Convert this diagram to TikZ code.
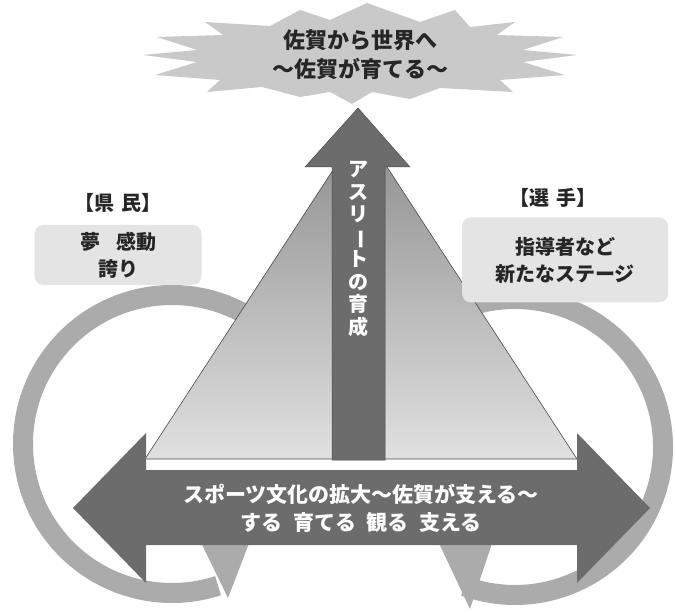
\documentclass[tikz,border=0pt]{standalone}
\usepackage{fontspec}
\usepackage{graphicx}
\newfontfamily\jp{Noto Sans CJK JP}
\usetikzlibrary{positioning,calc}

\definecolor{burstgray}{HTML}{C9C9C9}
\definecolor{ringgray}{HTML}{ABABAB}
\definecolor{arrowgray}{HTML}{6C6C6C}
\definecolor{edgegray}{HTML}{4A4A4A}
\definecolor{boxgray}{HTML}{E4E4E4}
\definecolor{textgray}{HTML}{262626}

\begin{document}
\begin{tikzpicture}[
    x=1pt, y=-1pt,
    burst/.style={fill=burstgray},
    ring/.style={draw=ringgray, line width=20pt},
    ringhead/.style={fill=ringgray},
    bigarrow/.style={fill=arrowgray, draw=edgegray, line width=0.5pt},
    labelbox/.style={fill=boxgray, rounded corners=9pt, inner sep=0pt, align=center, text=textgray, font=\jp\bfseries\fontsize{20}{27}\selectfont},
    heading/.style={text=textgray, font=\jp\bfseries\fontsize{20}{24}\selectfont},
    whitetext/.style={text=white, align=center, font=\jp\bfseries\fontsize{21}{28}\selectfont}
]
    \useasboundingbox (0,0) rectangle (675,612);

    % circular arrows behind everything
    \draw [ring] (172,444) ++(310:149) arc[start angle=310, end angle=72, radius=149];
    \fill [ringhead] (190,520) -- (258,520) -- (228,598) -- cycle;
    \draw [ring] (515,447) ++(232:148) arc[start angle=232, end angle=470, radius=148];
    \fill [ringhead] (428,520) -- (500,520) -- (470,609) -- cycle;

    % pyramid
    \shade [top color=black!45, bottom color=black!12, draw=edgegray, line width=0.6pt]
        (361,127) -- (577,459) -- (145,459) -- cycle;

    % athlete arrow
    \draw [bigarrow] (358,108) -- (410,167) -- (385,167) -- (385,460)
        -- (332,460) -- (332,167) -- (305,167) -- cycle;
    \node [whitetext, font=\jp\bfseries\fontsize{20}{22.5}\selectfont, anchor=north] (ikusei) at (358,158)
        {ア\\ス\\リ\\\rotatebox[origin=c]{-90}{ー}\\ト\\の\\育\\成};

    % culture arrow
    \fill [arrowgray] (73,508) -- (146,433) -- (146,470) -- (577,470) -- (577,433)
        -- (650,508) -- (577,583) -- (577,545) -- (146,545) -- (146,583) -- cycle;
    \node [whitetext] (bunka) at (361,508)
        {スポーツ文化の拡大～佐賀が支える～\\する\hspace{0.5em}育てる\hspace{0.5em}観る\hspace{0.5em}支える};

    % starburst goal
    \fill [burst] (205,22) -- (223,35) -- (157,37) -- (197,50) -- (143,55) -- (197,62)
        -- (155,75) -- (220,80) -- (207,92) -- (262,87) -- (300,97) -- (330,92)
        -- (352,104) -- (372,92) -- (410,99) -- (440,88) -- (513,92) -- (500,80)
        -- (565,75) -- (523,62) -- (577,55) -- (523,50) -- (563,37) -- (497,35)
        -- (515,22) -- (470,27) -- (455,10) -- (420,22) -- (367,3) -- (330,20)
        -- (300,10) -- (270,26) -- cycle;
    \node [heading, align=center, font=\jp\bfseries\fontsize{22}{29}\selectfont] (goal) at (360,55)
        {佐賀から世界へ\\～佐賀が育てる～};

    % people
    \node [heading] (kenmin) at (118,203) {【県\hspace{0.4em}民】};
    \node [labelbox, minimum width=167pt, minimum height=60pt] (kenminbox) at (118,255)
        {夢\hspace{0.8em}感動\\誇り};

    % athletes
    \node [heading] (senshu) at (553,198) {【選\hspace{0.4em}手】};
    \node [labelbox, minimum width=206pt, minimum height=85pt] (senshubox) at (565,260)
        {指導者など\\新たなステージ};
\end{tikzpicture}
\end{document}
